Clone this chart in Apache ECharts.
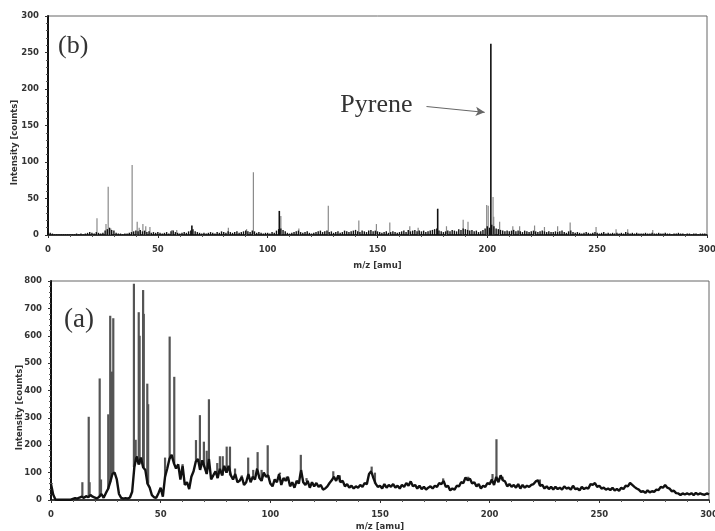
<!DOCTYPE html>
<html>
<head>
<meta charset="utf-8">
<script src="https://cdn.jsdelivr.net/npm/echarts@6/dist/echarts.min.js"></script>
<style>
html, body { margin: 0; padding: 0; background: #fff; }
#chart { width: 715px; height: 531px; }
</style>
</head>
<body>
<div id="chart"></div>
<script>
// axis ticks
var mzTicks = [0, 50, 100, 150, 200, 250, 300]
var yTicksB = [0, 50, 100, 150, 200, 250, 300]
var yTicksA = [0, 100, 200, 300, 400, 500, 600, 700, 800]

// (b) background noise, one value per integer m/z 0..300
var baseB = [
  52, 3, 2, 1, 1, 1, 1, 1, 1, 1,
  1, 1, 1, 2, 1, 2, 1, 2, 3, 4,
  3, 2, 4, 3, 2, 3, 6, 8, 10, 7,
  6, 3, 2, 2, 1, 2, 2, 3, 4, 5,
  6, 5, 7, 5, 6, 4, 5, 3, 4, 3,
  4, 3, 2, 3, 4, 2, 5, 6, 4, 3,
  2, 3, 4, 3, 5, 6, 8, 5, 4, 3,
  2, 3, 2, 3, 4, 3, 2, 4, 3, 5,
  4, 3, 5, 4, 3, 4, 5, 3, 4, 5,
  6, 5, 4, 6, 5, 3, 4, 3, 2, 3,
  3, 2, 4, 3, 6, 8, 9, 7, 5, 3,
  2, 3, 4, 5, 6, 4, 3, 4, 5, 3,
  2, 3, 4, 5, 6, 4, 5, 6, 4, 5,
  3, 4, 5, 3, 4, 6, 5, 4, 5, 6,
  7, 5, 4, 6, 5, 4, 6, 7, 5, 6,
  5, 4, 3, 4, 5, 3, 4, 5, 4, 3,
  4, 5, 6, 4, 7, 5, 6, 7, 5, 6,
  5, 6, 4, 5, 6, 7, 8, 9, 6, 5,
  4, 5, 6, 5, 7, 6, 5, 8, 7, 9,
  8, 7, 6, 7, 5, 6, 4, 5, 7, 9,
  12, 10, 14, 12, 9, 8, 7, 6, 5, 6,
  5, 6, 7, 5, 6, 5, 4, 6, 5, 4,
  5, 6, 5, 4, 5, 6, 5, 4, 5, 4,
  4, 5, 4, 5, 6, 4, 3, 5, 6, 4,
  3, 4, 3, 2, 3, 4, 3, 2, 3, 4,
  3, 2, 3, 4, 2, 3, 2, 3, 2, 3,
  2, 3, 2, 4, 3, 2, 3, 2, 3, 2,
  2, 2, 3, 2, 2, 3, 2, 2, 3, 2,
  2, 3, 2, 2, 1, 2, 2, 3, 2, 2,
  1, 2, 2, 1, 2, 2, 1, 2, 2, 2,
  1
]
// (b) peaks [m/z, counts]
var peaksB = [
  [22.3, 23], [26.4, 15], [27.4, 66], [28.6, 9], [38.3, 96], [40.6, 18], [41.5, 10],
  [43.2, 15], [44.5, 12], [46.4, 11], [56.4, 7], [58.6, 7], [82.1, 10], [90.4, 8],
  [93.5, 86], [106, 26], [114.2, 9], [127.6, 40], [141.5, 20], [149.5, 15], [155.6, 17],
  [164.7, 12], [168.5, 10], [181.4, 12], [189, 21], [191.2, 18], [199.7, 41], [200.4, 40],
  [202.6, 52], [202.9, 25], [205.6, 18], [211.6, 12], [214.7, 12], [221.5, 13], [226, 11],
  [232, 12], [237.7, 17], [249.5, 11], [258.6, 8], [263.9, 8], [275.3, 7]
]
var strongB = [[65.5, 13], [105.3, 33], [177.4, 36], [201.6, 262]]
var arrowB = [[172.3, 176], [198.8, 168]]

// (a) trace, one value per integer m/z 0..300
var baseA = [
  58, 20, 2, 1, 1, 1, 1, 1, 1, 1,
  4, 7, 5, 9, 12, 8, 14, 10, 18, 12,
  9, 6, 12, 22, 8, 25, 40, 65, 95, 100,
  75, 22, 8, 5, 7, 5, 9, 30, 120, 160,
  130, 155, 120, 110, 60, 45, 18, 10, 8, 25,
  45, 12, 85, 115, 150, 165, 135, 115, 130, 75,
  125, 55, 65, 40, 85, 105, 140, 150, 110, 145,
  120, 95, 150, 75, 90, 105, 80, 115, 90, 125,
  100, 125, 90, 75, 95, 65, 70, 85, 55, 65,
  95, 65, 85, 75, 115, 80, 70, 100, 85, 90,
  60, 50, 75, 65, 95, 55, 80, 70, 85, 50,
  65, 45, 70, 60, 110, 65, 55, 70, 45, 65,
  50, 62, 48, 55, 38, 42, 50, 62, 72, 85,
  70, 90, 65, 70, 50, 58, 45, 52, 42, 50,
  45, 55, 48, 62, 58, 95, 105, 80, 60, 48,
  52, 42, 58, 45, 55, 48, 58, 45, 52, 42,
  55, 48, 62, 52, 68, 50, 55, 42, 52, 40,
  48, 38, 45, 50, 42, 52, 48, 62, 58, 70,
  48, 52, 35, 42, 38, 52, 50, 65, 62, 82,
  72, 78, 60, 65, 50, 58, 42, 52, 48, 62,
  58, 75, 55, 85, 65, 90, 72, 68, 50, 58,
  48, 55, 45, 58, 42, 55, 45, 52, 48, 55,
  58, 68, 72, 52, 55, 42, 50, 40, 48, 38,
  48, 40, 45, 38, 50, 42, 45, 38, 52, 40,
  42, 35, 48, 40, 45, 42, 58, 55, 62, 48,
  52, 42, 45, 38, 42, 36, 45, 35, 40, 34,
  45, 40, 52, 50, 62, 55, 48, 42, 38, 30,
  32, 26, 35, 28, 32, 30, 38, 36, 48, 45,
  55, 45, 42, 32, 34, 25, 24, 18, 24, 20,
  24, 20, 25, 18, 26, 20, 24, 21, 19, 24,
  20
]
// (a) peaks [m/z, counts]
var peaksA = [
  [0.3, 62], [14.3, 65], [17.2, 304], [17.6, 65], [22.2, 444], [22.8, 75], [26.1, 313],
  [27, 673], [27.8, 469], [28.4, 664], [29.3, 100], [37.8, 790], [38.6, 220], [40, 686],
  [40.4, 600], [42, 767], [42.3, 680], [43.9, 425], [44.3, 350], [52, 155], [54.1, 597],
  [55, 160], [56.2, 450], [58, 131], [60, 131], [66.1, 219], [67.9, 310], [69.7, 213],
  [71, 180], [72, 368], [73.7, 90], [75.8, 135], [77, 160], [78.3, 160], [80.1, 195],
  [81.6, 195], [83.9, 115], [87, 90], [89.9, 155], [92.2, 110], [94.2, 175], [96, 110],
  [98.8, 200], [104.4, 100], [107.4, 85], [113.9, 165], [116.5, 80], [128.7, 105],
  [131.7, 90], [146.2, 122], [147.7, 100], [178.8, 79], [190.2, 85], [201.3, 95],
  [203.1, 222], [205.9, 85], [222.9, 75]
]

var labelFont = { fontFamily: 'DejaVu Sans', fontSize: 8.5, fontWeight: 'bold', color: '#333' }
var serif = 'Liberation Serif'

function stickSeries (xi, data, color, width) {
  return {
    type: 'custom',
    xAxisIndex: xi,
    yAxisIndex: xi,
    clip: true,
    silent: true,
    encode: { x: 0, y: [1, 2] },
    data: data,
    renderItem: function (params, api) {
      var top = api.coord([api.value(0), api.value(1)])
      var bot = api.coord([api.value(0), api.value(2)])
      return {
        type: 'line',
        shape: { x1: top[0], y1: top[1], x2: bot[0], y2: bot[1] },
        style: { stroke: color, lineWidth: width }
      }
    }
  }
}

function xAxisCfg (gi, margin, gap) {
  return {
    type: 'value',
    gridIndex: gi,
    min: mzTicks[0],
    max: mzTicks[mzTicks.length - 1],
    interval: mzTicks[1] - mzTicks[0],
    name: 'm/z [amu]',
    nameLocation: 'middle',
    nameGap: gap,
    nameMoveOverlap: false,
    nameTextStyle: labelFont,
    axisLine: { lineStyle: { color: '#111', width: 1.5 } },
    axisTick: { length: 3, lineStyle: { color: '#333' } },
    minorTick: { show: true, splitNumber: 5, length: 2, lineStyle: { color: '#555' } },
    axisLabel: Object.assign({ margin: margin }, labelFont),
    splitLine: { show: false }
  }
}

function yAxisCfg (gi, ticks, gap) {
  return {
    type: 'value',
    gridIndex: gi,
    min: ticks[0],
    max: ticks[ticks.length - 1],
    interval: ticks[1] - ticks[0],
    name: 'Intensity [counts]',
    nameLocation: 'middle',
    nameGap: gap,
    nameMoveOverlap: false,
    nameTextStyle: Object.assign({ padding: [0, 34, 0, 0] }, labelFont),
    axisLine: { lineStyle: { color: '#111', width: 2 } },
    axisTick: { length: 3, lineStyle: { color: '#333' } },
    minorTick: { show: true, splitNumber: 5, length: 2, lineStyle: { color: '#555' } },
    axisLabel: Object.assign({ margin: 9 }, labelFont),
    splitLine: { show: false }
  }
}

var chart = echarts.init(document.getElementById('chart'), null, { renderer: 'canvas' })

var topSticks = stickSeries(0, peaksB.map(function (p) { return [p[0], p[1], 0] }), '#8a8a8a', 1.2)
var topNoise = stickSeries(0, baseB.map(function (v, i) { return [i, v, 0] }), '#111', 1.4)
var topStrong = stickSeries(0, strongB.map(function (p) { return [p[0], p[1], 0] }), '#111', 1.6)
topStrong.markLine = {
  silent: true,
  symbol: ['none', 'arrow'],
  symbolSize: [7, 9],
  lineStyle: { color: '#666', width: 1, type: 'solid' },
  label: {
    show: true,
    position: 'start',
    distance: 14,
    formatter: 'Pyrene',
    fontFamily: serif,
    fontSize: 26,
    color: '#333'
  },
  data: [[{ coord: arrowB[0] }, { coord: arrowB[1] }]]
}

var botSticks = stickSeries(1, peaksA.map(function (p) {
  return [p[0], p[1], baseA[Math.round(p[0])]]
}), '#555', 2.2)

chart.setOption({
  backgroundColor: '#fff',
  animation: false,
  title: [
    { text: '(b)', left: 58, top: 33, padding: 0, textStyle: { fontFamily: serif, fontSize: 26, fontWeight: 'normal', color: '#333' } },
    { text: '(a)', left: 64, top: 306, padding: 0, textStyle: { fontFamily: serif, fontSize: 27, fontWeight: 'normal', color: '#333' } }
  ],
  grid: [
    { left: 48, right: 8, top: 16, height: 219, show: true, borderColor: '#666', borderWidth: 1, outerBoundsMode: 'none' },
    { left: 51, right: 6, top: 281, height: 219, show: true, borderColor: '#666', borderWidth: 1, outerBoundsMode: 'none' }
  ],
  xAxis: [xAxisCfg(0, 10, 26), xAxisCfg(1, 10, 22)],
  yAxis: [yAxisCfg(0, yTicksB, 29), yAxisCfg(1, yTicksA, 27)],
  series: [
    topSticks,
    topNoise,
    topStrong,
    botSticks,
    {
      type: 'line',
      xAxisIndex: 1,
      yAxisIndex: 1,
      data: baseA.map(function (v, i) { return [i, v] }),
      showSymbol: false,
      silent: true,
      lineStyle: { color: '#111', width: 2.4 },
      z: 3
    }
  ]
})
</script>
</body>
</html>
